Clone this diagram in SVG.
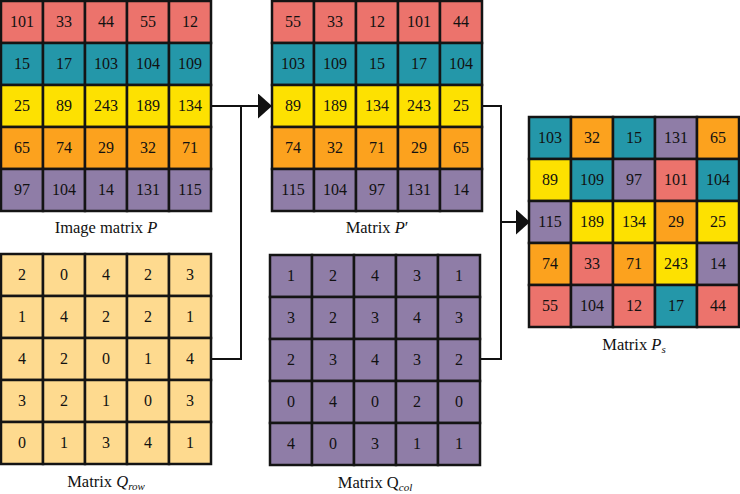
<svg xmlns="http://www.w3.org/2000/svg" width="740" height="494" viewBox="0 0 740 494" font-family="'Liberation Serif', 'DejaVu Serif', serif">
<style>
rect{stroke:#141414;stroke-width:2.5}
.r{fill:#EC736C}.t{fill:#2497A9}.y{fill:#FDE101}.o{fill:#FCA21E}.p{fill:#8F7DA7}.q{fill:#FEDA8F}
text{font-family:'Liberation Serif','DejaVu Serif',serif;fill:#111}
.n{font-size:16px;text-anchor:middle}
.lb{font-size:16.5px;text-anchor:middle}
.i{font-style:italic}
.sub{font-size:11px;font-style:italic}
.c{fill:none;stroke:#111;stroke-width:2}
</style>
<defs>
<marker id="ah" markerUnits="userSpaceOnUse" markerWidth="14" markerHeight="25" viewBox="0 0 14 25" refX="0" refY="12.5" orient="auto"><path d="M0,0 L14,12.5 L0,25 z" fill="#111"/></marker>
</defs>

<g id="matrix-P">
<rect class="r" x="1" y="1" width="42" height="42"/><rect class="r" x="43" y="1" width="42" height="42"/><rect class="r" x="85" y="1" width="42" height="42"/><rect class="r" x="127" y="1" width="42" height="42"/><rect class="r" x="169" y="1" width="42" height="42"/>
<rect class="t" x="1" y="43" width="42" height="42"/><rect class="t" x="43" y="43" width="42" height="42"/><rect class="t" x="85" y="43" width="42" height="42"/><rect class="t" x="127" y="43" width="42" height="42"/><rect class="t" x="169" y="43" width="42" height="42"/>
<rect class="y" x="1" y="85" width="42" height="42"/><rect class="y" x="43" y="85" width="42" height="42"/><rect class="y" x="85" y="85" width="42" height="42"/><rect class="y" x="127" y="85" width="42" height="42"/><rect class="y" x="169" y="85" width="42" height="42"/>
<rect class="o" x="1" y="127" width="42" height="42"/><rect class="o" x="43" y="127" width="42" height="42"/><rect class="o" x="85" y="127" width="42" height="42"/><rect class="o" x="127" y="127" width="42" height="42"/><rect class="o" x="169" y="127" width="42" height="42"/>
<rect class="p" x="1" y="169" width="42" height="42"/><rect class="p" x="43" y="169" width="42" height="42"/><rect class="p" x="85" y="169" width="42" height="42"/><rect class="p" x="127" y="169" width="42" height="42"/><rect class="p" x="169" y="169" width="42" height="42"/>
<text class="n" x="22" y="27">101</text><text class="n" x="64" y="27">33</text><text class="n" x="106" y="27">44</text><text class="n" x="148" y="27">55</text><text class="n" x="190" y="27">12</text>
<text class="n" x="22" y="69">15</text><text class="n" x="64" y="69">17</text><text class="n" x="106" y="69">103</text><text class="n" x="148" y="69">104</text><text class="n" x="190" y="69">109</text>
<text class="n" x="22" y="111">25</text><text class="n" x="64" y="111">89</text><text class="n" x="106" y="111">243</text><text class="n" x="148" y="111">189</text><text class="n" x="190" y="111">134</text>
<text class="n" x="22" y="153">65</text><text class="n" x="64" y="153">74</text><text class="n" x="106" y="153">29</text><text class="n" x="148" y="153">32</text><text class="n" x="190" y="153">71</text>
<text class="n" x="22" y="195">97</text><text class="n" x="64" y="195">104</text><text class="n" x="106" y="195">14</text><text class="n" x="148" y="195">131</text><text class="n" x="190" y="195">115</text>
<text class="lb" x="106" y="233">Image matrix <tspan class="i">P</tspan></text>
</g>

<g id="matrix-P-prime">
<rect class="r" x="272" y="1" width="42" height="42"/><rect class="r" x="314" y="1" width="42" height="42"/><rect class="r" x="356" y="1" width="42" height="42"/><rect class="r" x="398" y="1" width="42" height="42"/><rect class="r" x="440" y="1" width="42" height="42"/>
<rect class="t" x="272" y="43" width="42" height="42"/><rect class="t" x="314" y="43" width="42" height="42"/><rect class="t" x="356" y="43" width="42" height="42"/><rect class="t" x="398" y="43" width="42" height="42"/><rect class="t" x="440" y="43" width="42" height="42"/>
<rect class="y" x="272" y="85" width="42" height="42"/><rect class="y" x="314" y="85" width="42" height="42"/><rect class="y" x="356" y="85" width="42" height="42"/><rect class="y" x="398" y="85" width="42" height="42"/><rect class="y" x="440" y="85" width="42" height="42"/>
<rect class="o" x="272" y="127" width="42" height="42"/><rect class="o" x="314" y="127" width="42" height="42"/><rect class="o" x="356" y="127" width="42" height="42"/><rect class="o" x="398" y="127" width="42" height="42"/><rect class="o" x="440" y="127" width="42" height="42"/>
<rect class="p" x="272" y="169" width="42" height="42"/><rect class="p" x="314" y="169" width="42" height="42"/><rect class="p" x="356" y="169" width="42" height="42"/><rect class="p" x="398" y="169" width="42" height="42"/><rect class="p" x="440" y="169" width="42" height="42"/>
<text class="n" x="293" y="27">55</text><text class="n" x="335" y="27">33</text><text class="n" x="377" y="27">12</text><text class="n" x="419" y="27">101</text><text class="n" x="461" y="27">44</text>
<text class="n" x="293" y="69">103</text><text class="n" x="335" y="69">109</text><text class="n" x="377" y="69">15</text><text class="n" x="419" y="69">17</text><text class="n" x="461" y="69">104</text>
<text class="n" x="293" y="111">89</text><text class="n" x="335" y="111">189</text><text class="n" x="377" y="111">134</text><text class="n" x="419" y="111">243</text><text class="n" x="461" y="111">25</text>
<text class="n" x="293" y="153">74</text><text class="n" x="335" y="153">32</text><text class="n" x="377" y="153">71</text><text class="n" x="419" y="153">29</text><text class="n" x="461" y="153">65</text>
<text class="n" x="293" y="195">115</text><text class="n" x="335" y="195">104</text><text class="n" x="377" y="195">97</text><text class="n" x="419" y="195">131</text><text class="n" x="461" y="195">14</text>
<text class="lb" x="377" y="233">Matrix <tspan class="i">P</tspan>′</text>
</g>

<g id="matrix-Ps">
<rect class="t" x="529" y="117" width="42" height="42"/><rect class="o" x="571" y="117" width="42" height="42"/><rect class="t" x="613" y="117" width="42" height="42"/><rect class="p" x="655" y="117" width="42" height="42"/><rect class="o" x="697" y="117" width="42" height="42"/>
<rect class="y" x="529" y="159" width="42" height="42"/><rect class="t" x="571" y="159" width="42" height="42"/><rect class="p" x="613" y="159" width="42" height="42"/><rect class="r" x="655" y="159" width="42" height="42"/><rect class="t" x="697" y="159" width="42" height="42"/>
<rect class="p" x="529" y="201" width="42" height="42"/><rect class="y" x="571" y="201" width="42" height="42"/><rect class="y" x="613" y="201" width="42" height="42"/><rect class="o" x="655" y="201" width="42" height="42"/><rect class="y" x="697" y="201" width="42" height="42"/>
<rect class="o" x="529" y="243" width="42" height="42"/><rect class="r" x="571" y="243" width="42" height="42"/><rect class="o" x="613" y="243" width="42" height="42"/><rect class="y" x="655" y="243" width="42" height="42"/><rect class="p" x="697" y="243" width="42" height="42"/>
<rect class="r" x="529" y="285" width="42" height="42"/><rect class="p" x="571" y="285" width="42" height="42"/><rect class="r" x="613" y="285" width="42" height="42"/><rect class="t" x="655" y="285" width="42" height="42"/><rect class="r" x="697" y="285" width="42" height="42"/>
<text class="n" x="550" y="143">103</text><text class="n" x="592" y="143">32</text><text class="n" x="634" y="143">15</text><text class="n" x="676" y="143">131</text><text class="n" x="718" y="143">65</text>
<text class="n" x="550" y="185">89</text><text class="n" x="592" y="185">109</text><text class="n" x="634" y="185">97</text><text class="n" x="676" y="185">101</text><text class="n" x="718" y="185">104</text>
<text class="n" x="550" y="227">115</text><text class="n" x="592" y="227">189</text><text class="n" x="634" y="227">134</text><text class="n" x="676" y="227">29</text><text class="n" x="718" y="227">25</text>
<text class="n" x="550" y="269">74</text><text class="n" x="592" y="269">33</text><text class="n" x="634" y="269">71</text><text class="n" x="676" y="269">243</text><text class="n" x="718" y="269">14</text>
<text class="n" x="550" y="311">55</text><text class="n" x="592" y="311">104</text><text class="n" x="634" y="311">12</text><text class="n" x="676" y="311">17</text><text class="n" x="718" y="311">44</text>
<text class="lb" x="634" y="350">Matrix <tspan class="i">P</tspan><tspan class="sub" dy="3">s</tspan></text>
</g>

<g id="matrix-Qrow">
<rect class="q" x="1" y="254" width="42" height="42"/><rect class="q" x="43" y="254" width="42" height="42"/><rect class="q" x="85" y="254" width="42" height="42"/><rect class="q" x="127" y="254" width="42" height="42"/><rect class="q" x="169" y="254" width="42" height="42"/>
<rect class="q" x="1" y="296" width="42" height="42"/><rect class="q" x="43" y="296" width="42" height="42"/><rect class="q" x="85" y="296" width="42" height="42"/><rect class="q" x="127" y="296" width="42" height="42"/><rect class="q" x="169" y="296" width="42" height="42"/>
<rect class="q" x="1" y="338" width="42" height="42"/><rect class="q" x="43" y="338" width="42" height="42"/><rect class="q" x="85" y="338" width="42" height="42"/><rect class="q" x="127" y="338" width="42" height="42"/><rect class="q" x="169" y="338" width="42" height="42"/>
<rect class="q" x="1" y="380" width="42" height="42"/><rect class="q" x="43" y="380" width="42" height="42"/><rect class="q" x="85" y="380" width="42" height="42"/><rect class="q" x="127" y="380" width="42" height="42"/><rect class="q" x="169" y="380" width="42" height="42"/>
<rect class="q" x="1" y="422" width="42" height="42"/><rect class="q" x="43" y="422" width="42" height="42"/><rect class="q" x="85" y="422" width="42" height="42"/><rect class="q" x="127" y="422" width="42" height="42"/><rect class="q" x="169" y="422" width="42" height="42"/>
<text class="n" x="22" y="280">2</text><text class="n" x="64" y="280">0</text><text class="n" x="106" y="280">4</text><text class="n" x="148" y="280">2</text><text class="n" x="190" y="280">3</text>
<text class="n" x="22" y="322">1</text><text class="n" x="64" y="322">4</text><text class="n" x="106" y="322">2</text><text class="n" x="148" y="322">2</text><text class="n" x="190" y="322">1</text>
<text class="n" x="22" y="364">4</text><text class="n" x="64" y="364">2</text><text class="n" x="106" y="364">0</text><text class="n" x="148" y="364">1</text><text class="n" x="190" y="364">4</text>
<text class="n" x="22" y="406">3</text><text class="n" x="64" y="406">2</text><text class="n" x="106" y="406">1</text><text class="n" x="148" y="406">0</text><text class="n" x="190" y="406">3</text>
<text class="n" x="22" y="448">0</text><text class="n" x="64" y="448">1</text><text class="n" x="106" y="448">3</text><text class="n" x="148" y="448">4</text><text class="n" x="190" y="448">1</text>
<text class="lb" x="106" y="487">Matrix <tspan class="i">Q</tspan><tspan class="sub" dy="3">row</tspan></text>
</g>

<g id="matrix-Qcol">
<rect class="p" x="270" y="255" width="42" height="42"/><rect class="p" x="312" y="255" width="42" height="42"/><rect class="p" x="354" y="255" width="42" height="42"/><rect class="p" x="396" y="255" width="42" height="42"/><rect class="p" x="438" y="255" width="42" height="42"/>
<rect class="p" x="270" y="297" width="42" height="42"/><rect class="p" x="312" y="297" width="42" height="42"/><rect class="p" x="354" y="297" width="42" height="42"/><rect class="p" x="396" y="297" width="42" height="42"/><rect class="p" x="438" y="297" width="42" height="42"/>
<rect class="p" x="270" y="339" width="42" height="42"/><rect class="p" x="312" y="339" width="42" height="42"/><rect class="p" x="354" y="339" width="42" height="42"/><rect class="p" x="396" y="339" width="42" height="42"/><rect class="p" x="438" y="339" width="42" height="42"/>
<rect class="p" x="270" y="381" width="42" height="42"/><rect class="p" x="312" y="381" width="42" height="42"/><rect class="p" x="354" y="381" width="42" height="42"/><rect class="p" x="396" y="381" width="42" height="42"/><rect class="p" x="438" y="381" width="42" height="42"/>
<rect class="p" x="270" y="423" width="42" height="42"/><rect class="p" x="312" y="423" width="42" height="42"/><rect class="p" x="354" y="423" width="42" height="42"/><rect class="p" x="396" y="423" width="42" height="42"/><rect class="p" x="438" y="423" width="42" height="42"/>
<text class="n" x="291" y="281">1</text><text class="n" x="333" y="281">2</text><text class="n" x="375" y="281">4</text><text class="n" x="417" y="281">3</text><text class="n" x="459" y="281">1</text>
<text class="n" x="291" y="323">3</text><text class="n" x="333" y="323">2</text><text class="n" x="375" y="323">3</text><text class="n" x="417" y="323">4</text><text class="n" x="459" y="323">3</text>
<text class="n" x="291" y="365">2</text><text class="n" x="333" y="365">3</text><text class="n" x="375" y="365">4</text><text class="n" x="417" y="365">3</text><text class="n" x="459" y="365">2</text>
<text class="n" x="291" y="407">0</text><text class="n" x="333" y="407">4</text><text class="n" x="375" y="407">0</text><text class="n" x="417" y="407">2</text><text class="n" x="459" y="407">0</text>
<text class="n" x="291" y="449">4</text><text class="n" x="333" y="449">0</text><text class="n" x="375" y="449">3</text><text class="n" x="417" y="449">1</text><text class="n" x="459" y="449">1</text>
<text class="lb" x="375" y="488">Matrix Q<tspan class="sub" dy="3">col</tspan></text>
</g>

<g id="connectors">
<path class="c" d="M212,106 H258" marker-end="url(#ah)"/>
<path class="c" d="M212,359 H241 V106"/>
<path class="c" d="M483,106 H501 V222 H516" marker-end="url(#ah)"/>
<path class="c" d="M481,359 H501 V222"/>
</g>
</svg>
